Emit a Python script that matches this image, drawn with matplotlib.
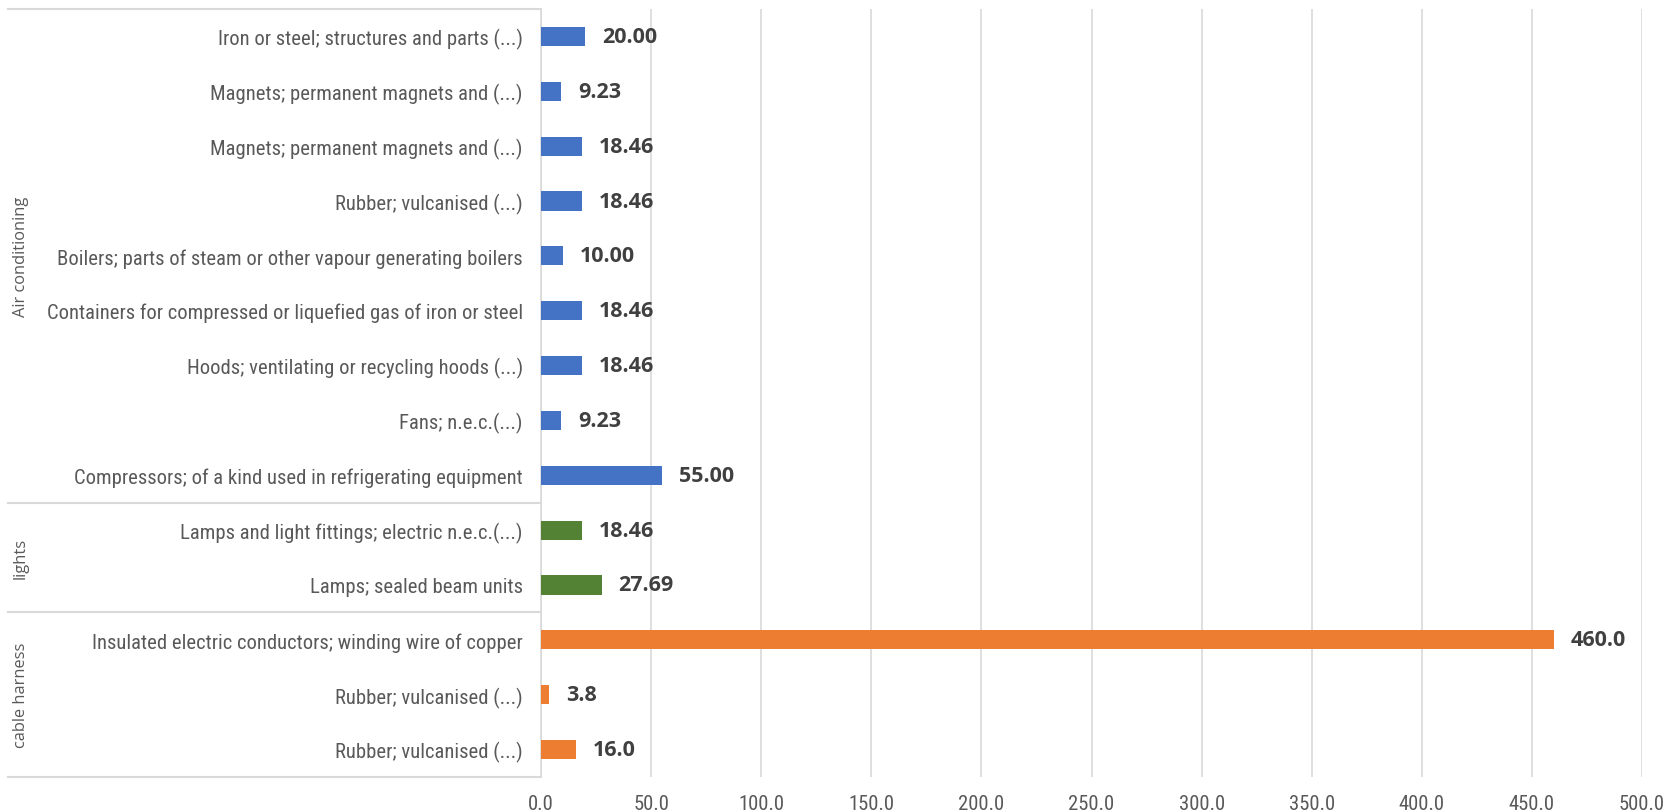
import numpy as np
import matplotlib.pyplot as plt
import matplotlib.transforms as mtransforms
from matplotlib import font_manager

# categories listed from the top of the chart downwards
groups = ['Air conditioning', 'lights', 'cable harness']
group_sizes = [9, 2, 3]
group_colors = ['#4472C4', '#548235', '#ED7D31']
group_fmt = ['{:.2f}', '{:.2f}', '{:.1f}']

items = ['Iron or steel; structures and parts (...)',
         'Magnets; permanent magnets and (...)',
         'Magnets; permanent magnets and (...)',
         'Rubber; vulcanised (...)',
         'Boilers; parts of steam or other vapour generating boilers',
         'Containers for compressed or liquefied gas of iron or steel',
         'Hoods; ventilating or recycling hoods (...)',
         'Fans; n.e.c.(...)',
         'Compressors; of a kind used in refrigerating equipment',
         'Lamps and light fittings; electric n.e.c.(...)',
         'Lamps; sealed beam units',
         'Insulated electric conductors; winding wire of copper',
         'Rubber; vulcanised (...)',
         'Rubber; vulcanised (...)']
values = [20.00, 9.23, 18.46, 18.46, 10.00, 18.46, 18.46, 9.23, 55.00,
          18.46, 27.69,
          460.0, 3.8, 16.0]

xticks = np.arange(0, 501, 50)

# pick a narrow-ish face for the item labels
installed = {f.name for f in font_manager.fontManager.ttflist}
label_face = 'DejaVu Sans'
for cand in ['Liberation Sans Narrow', 'Roboto Condensed', 'Open Sans Condensed', 'Lato']:
    if cand in installed:
        label_face = cand
        break
narrow = [label_face, 'DejaVu Sans']
grid_col = '#D9D9D9'
text_col = '#595959'

fig = plt.figure(figsize=(16.74, 8.12), dpi=100)
ax = fig.add_axes([541 / 1674, 1 - 778 / 812, 1101 / 1674, 768 / 812])

# size the item labels so the longest one is about 444 px wide
renderer = fig.canvas.get_renderer()
probe = fig.text(0, 0, 'Compressors; of a kind used in refrigerating equipment',
                 family=narrow, fontsize=10)
label_size = 10 * 444 / probe.get_window_extent(renderer).width
probe.remove()
label_size = min(label_size, 16.5)

colors = []
fmts = []
for size, col, fmt in zip(group_sizes, group_colors, group_fmt):
    colors += [col] * size
    fmts += [fmt] * size

y = np.arange(len(items))
ax.barh(y, values, height=0.35, color=colors, zorder=3)

for yi, v, fmt in zip(y, values, fmts):
    ax.annotate(fmt.format(v), (v, yi), xytext=(12, 0), textcoords='offset points',
                ha='left', va='center', fontsize=15.5, fontweight='bold',
                color='#404040', family=['Open Sans', 'DejaVu Sans'])

ax.set_xlim(0, 500)
ax.set_ylim(len(items) - 0.5, -0.5)
ax.set_xticks(xticks)
ax.set_xticklabels(['{:.1f}'.format(t) for t in xticks], family=narrow,
                   fontsize=min(label_size, 15), color=text_col)
ax.set_yticks(y)
ax.set_yticklabels(items, family=narrow, fontsize=label_size, color=text_col)
ax.tick_params(axis='both', length=0)
ax.tick_params(axis='y', pad=13)
ax.tick_params(axis='x', pad=12)
ax.xaxis.grid(True, color=grid_col, lw=1.2, zorder=0)

for side in ['top', 'right', 'bottom']:
    ax.spines[side].set_visible(False)
ax.spines['left'].set_color(grid_col)
ax.spines['left'].set_linewidth(1.2)

# group separators and rotated group names to the left of the item labels
trans = mtransforms.blended_transform_factory(ax.transAxes, ax.transData)
x_left = (8 - 541) / 1101
bounds = np.concatenate([[0], np.cumsum(group_sizes)]) - 0.5
for b in bounds:
    ax.plot([x_left, 0], [b, b], transform=trans, color=grid_col, lw=1.5,
            clip_on=False, zorder=1)
for name, lo, hi in zip(groups, bounds[:-1], bounds[1:]):
    ax.text((21 - 541) / 1101, (lo + hi) / 2, name, transform=trans, rotation=90,
            ha='center', va='center', fontsize=11.8, color=text_col,
            family=['Open Sans', 'DejaVu Sans'])

fig.savefig('out.png', dpi=100)
